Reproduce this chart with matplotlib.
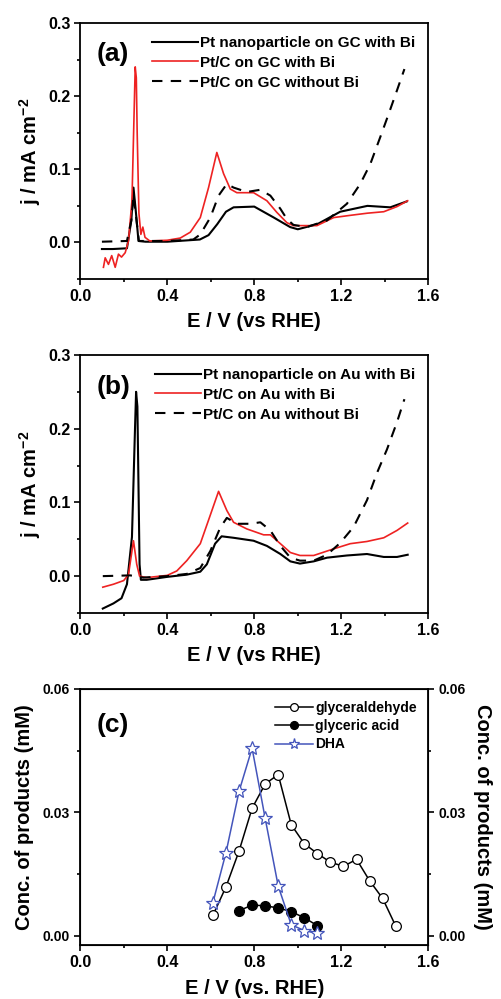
import numpy as np
import matplotlib
matplotlib.use("Agg")
import matplotlib.pyplot as plt
from matplotlib.ticker import MultipleLocator

plt.rcParams['font.family'] = ['Liberation Sans', 'DejaVu Sans']
plt.rcParams['font.weight'] = 'bold'
plt.rcParams['mathtext.fontset'] = 'custom'
plt.rcParams['mathtext.rm'] = 'Liberation Sans:bold'
plt.rcParams['mathtext.bf'] = 'Liberation Sans:bold'
plt.rcParams['mathtext.default'] = 'bf'

# ---- panel (a): GC substrate ----
E_a_pt = [0.10, 0.15, 0.215, 0.235, 0.245, 0.255, 0.268, 0.30, 0.40, 0.50, 0.55, 0.59, 0.63, 0.67, 0.705,
          0.80, 0.89, 0.965, 1.0, 1.09, 1.195, 1.32, 1.425, 1.50]
j_a_pt = [-0.009, -0.009, -0.008, 0.03, 0.075, 0.045, 0.002, 0.001, 0.001, 0.003, 0.004, 0.010, 0.025, 0.042, 0.048,
          0.049, 0.034, 0.021, 0.018, 0.025, 0.042, 0.050, 0.048, 0.056]

E_a_red = [0.107, 0.115, 0.13, 0.145, 0.161, 0.176, 0.19, 0.207, 0.222, 0.238, 0.253, 0.258, 0.262, 0.27, 0.279,
           0.288, 0.298, 0.32, 0.40, 0.46, 0.506, 0.552, 0.59, 0.628, 0.659, 0.69, 0.72, 0.797, 0.858, 0.904,
           0.95, 0.98, 1.088, 1.165, 1.24, 1.32, 1.395, 1.456, 1.505]
j_a_red = [-0.034, -0.021, -0.030, -0.018, -0.034, -0.016, -0.020, -0.014, 0.002, 0.057, 0.240, 0.225, 0.150, 0.040, 0.011,
           0.021, 0.007, 0.002, 0.003, 0.006, 0.014, 0.034, 0.075, 0.123, 0.094, 0.073, 0.068, 0.068, 0.057, 0.041,
           0.027, 0.023, 0.023, 0.034, 0.037, 0.040, 0.042, 0.049, 0.057]

E_a_dash = [0.10, 0.215, 0.235, 0.245, 0.255, 0.27, 0.40, 0.52, 0.552, 0.598, 0.636, 0.674, 0.705, 0.766, 0.828,
            0.874, 0.92, 0.95, 0.98, 1.04, 1.134, 1.226, 1.287, 1.333, 1.379, 1.418, 1.456, 1.49]
j_a_dash = [0.001, 0.002, 0.030, 0.065, 0.040, 0.002, 0.002, 0.004, 0.011, 0.034, 0.064, 0.080, 0.075, 0.069, 0.072,
            0.064, 0.046, 0.032, 0.024, 0.021, 0.030, 0.053, 0.080, 0.107, 0.144, 0.176, 0.208, 0.237]

# ---- panel (b): Au substrate ----
E_b_pt = [0.104, 0.153, 0.19, 0.215, 0.238, 0.252, 0.257, 0.263, 0.273, 0.279, 0.306, 0.40, 0.49, 0.552, 0.582,
          0.62, 0.65, 0.705, 0.797, 0.858, 0.92, 0.966, 1.01, 1.073, 1.134, 1.226, 1.318, 1.395, 1.456, 1.505]
j_b_pt = [-0.044, -0.037, -0.030, -0.011, 0.053, 0.200, 0.250, 0.230, 0.016, -0.005, -0.005, -0.001, 0.002, 0.006, 0.016,
          0.044, 0.054, 0.052, 0.048, 0.041, 0.030, 0.020, 0.017, 0.020, 0.025, 0.028, 0.030, 0.026, 0.026, 0.029]

E_b_red = [0.104, 0.153, 0.20, 0.222, 0.245, 0.26, 0.273, 0.306, 0.40, 0.444, 0.49, 0.552, 0.59, 0.636, 0.674,
           0.705, 0.766, 0.843, 0.874, 0.92, 0.966, 1.01, 1.073, 1.165, 1.241, 1.318, 1.395, 1.456, 1.505]
j_b_red = [-0.015, -0.011, -0.006, 0.002, 0.048, 0.016, 0.000, -0.002, 0.001, 0.007, 0.021, 0.044, 0.076, 0.115, 0.089,
           0.073, 0.064, 0.056, 0.056, 0.044, 0.032, 0.028, 0.028, 0.037, 0.044, 0.047, 0.052, 0.062, 0.072]

E_b_dash = [0.104, 0.23, 0.29, 0.40, 0.49, 0.552, 0.598, 0.644, 0.674, 0.72, 0.782, 0.828, 0.874, 0.92, 0.966,
            1.01, 1.073, 1.134, 1.195, 1.257, 1.318, 1.364, 1.41, 1.456, 1.49]
j_b_dash = [0.000, 0.001, -0.002, 0.000, 0.003, 0.011, 0.034, 0.066, 0.079, 0.071, 0.071, 0.073, 0.062, 0.041, 0.025,
            0.021, 0.021, 0.029, 0.045, 0.067, 0.103, 0.140, 0.172, 0.209, 0.240]

# ---- panel (c): products ----
E_gald = [0.61, 0.67, 0.73, 0.79, 0.85, 0.91, 0.97, 1.03, 1.09, 1.15, 1.21, 1.27, 1.33, 1.39, 1.45]
c_gald = [0.0050, 0.0119, 0.0206, 0.0310, 0.0369, 0.0392, 0.0270, 0.0224, 0.0200, 0.0179, 0.0169, 0.0186,
          0.0134, 0.0091, 0.0024]
E_gacid = [0.73, 0.79, 0.85, 0.91, 0.97, 1.03, 1.09]
c_gacid = [0.0061, 0.0075, 0.0073, 0.0068, 0.0059, 0.0044, 0.0025]
E_dha = [0.61, 0.67, 0.73, 0.79, 0.85, 0.91, 0.97, 1.03, 1.09]
c_dha = [0.0081, 0.0202, 0.0351, 0.0456, 0.0286, 0.0121, 0.0027, 0.0013, 0.0006]

fig = plt.figure(figsize=(5.01, 9.99), dpi=100)
ax1 = fig.add_axes([0.160, 0.7207, 0.695, 0.2563])
ax2 = fig.add_axes([0.160, 0.3864, 0.695, 0.2583])
ax3 = fig.add_axes([0.160, 0.0541, 0.695, 0.2563])


def style_cv(ax, label):
    ax.set_xlim(0, 1.6)
    ax.set_ylim(-0.05, 0.3)
    ax.xaxis.set_minor_locator(MultipleLocator(0.2))
    ax.yaxis.set_minor_locator(MultipleLocator(0.05))
    ax.set_xticks([0.0, 0.4, 0.8, 1.2, 1.6])
    ax.set_xticklabels(["0.0", "0.4", "0.8", "1.2", "1.6"])
    ax.set_yticks([0.0, 0.1, 0.2, 0.3])
    ax.set_yticklabels(["0.0", "0.1", "0.2", "0.3"])
    ax.tick_params(which='major', direction='out', length=4, width=1.2, labelsize=11.5, pad=3)
    ax.tick_params(which='minor', direction='out', length=2.5, width=1.2)
    for s in ax.spines.values():
        s.set_linewidth(1.3)
    ax.set_xlabel("E / V (vs RHE)", fontsize=14.5, fontweight='bold', labelpad=6)
    ax.set_ylabel("j / mA cm$^{-2}$", fontsize=14.5, fontweight='bold', labelpad=4)
    ax.text(0.048, 0.85, label, transform=ax.transAxes, fontsize=19, fontweight='bold')
    ax.legend(loc='upper right', bbox_to_anchor=(0.99, 0.985), frameon=False, fontsize=11,
              handlelength=3.0, handletextpad=0.15, labelspacing=0.38, borderaxespad=0.2)


ax1.plot(E_a_pt, j_a_pt, color='black', lw=1.5, label='Pt nanoparticle on GC with Bi')
ax1.plot(E_a_red, j_a_red, color='#ee2222', lw=1.2, label='Pt/C on GC with Bi')
ax1.plot(E_a_dash, j_a_dash, color='black', lw=1.5, ls=(0, (5, 4)), label='Pt/C on GC without Bi')
style_cv(ax1, "(a)")

ax2.plot(E_b_pt, j_b_pt, color='black', lw=1.5, label='Pt nanoparticle on Au with Bi')
ax2.plot(E_b_red, j_b_red, color='#ee2222', lw=1.2, label='Pt/C on Au with Bi')
ax2.plot(E_b_dash, j_b_dash, color='black', lw=1.5, ls=(0, (5, 4)), label='Pt/C on Au without Bi')
style_cv(ax2, "(b)")

ax3.plot(E_gald, c_gald, color='black', lw=1.1, marker='o', ms=7, mfc='white', mec='black', mew=0.9,
         label='glyceraldehyde')
ax3.plot(E_gacid, c_gacid, color='black', lw=1.1, marker='o', ms=7, mfc='black', mec='black',
         label='glyceric acid')
ax3.plot(E_dha, c_dha, color='#4455bb', lw=1.1, marker='*', ms=10, mfc='white', mec='#4455bb', mew=0.9,
         label='DHA')
ax3.set_xlim(0, 1.6)
ax3.set_ylim(-0.0022, 0.06)
ax3.set_xticks([0.0, 0.4, 0.8, 1.2, 1.6])
ax3.set_xticklabels(["0.0", "0.4", "0.8", "1.2", "1.6"])
ax3.xaxis.set_minor_locator(MultipleLocator(0.2))
ax3.set_yticks([0.0, 0.03, 0.06])
ax3.set_yticklabels(["0.00", "0.03", "0.06"])
ax3.yaxis.set_minor_locator(MultipleLocator(0.015))
ax3.tick_params(which='major', direction='out', length=4, width=1.2)
ax3.tick_params(axis='x', labelsize=11.5)
ax3.tick_params(axis='y', labelsize=10)
ax3.tick_params(which='minor', direction='out', length=2.5, width=1.2)
for s in ax3.spines.values():
    s.set_linewidth(1.3)
ax3.set_xlabel("E / V (vs. RHE)", fontsize=14.5, fontweight='bold', labelpad=6)
ax3.set_ylabel("Conc. of products (mM)", fontsize=14.5, fontweight='bold', labelpad=6)
ax3.text(0.048, 0.83, "(c)", transform=ax3.transAxes, fontsize=19, fontweight='bold')
leg = ax3.legend(loc='upper right', bbox_to_anchor=(0.99, 0.985), frameon=False, fontsize=10,
                 handlelength=2.7, handletextpad=0.15, labelspacing=0.3, borderaxespad=0.2, markerscale=0.8)

ax3r = ax3.twinx()
ax3r.set_ylim(-0.0022, 0.06)
ax3r.set_yticks([0.0, 0.03, 0.06])
ax3r.set_yticklabels(["0.00", "0.03", "0.06"])
ax3r.yaxis.set_minor_locator(MultipleLocator(0.015))
ax3r.tick_params(which='major', direction='out', length=4, width=1.2, labelsize=10)
ax3r.tick_params(which='minor', direction='out', length=2.5, width=1.2)
ax3r.set_ylabel("Conc. of products (mM)", fontsize=14.5, fontweight='bold', rotation=-90, labelpad=19)

fig.savefig("out.png", dpi=100)
